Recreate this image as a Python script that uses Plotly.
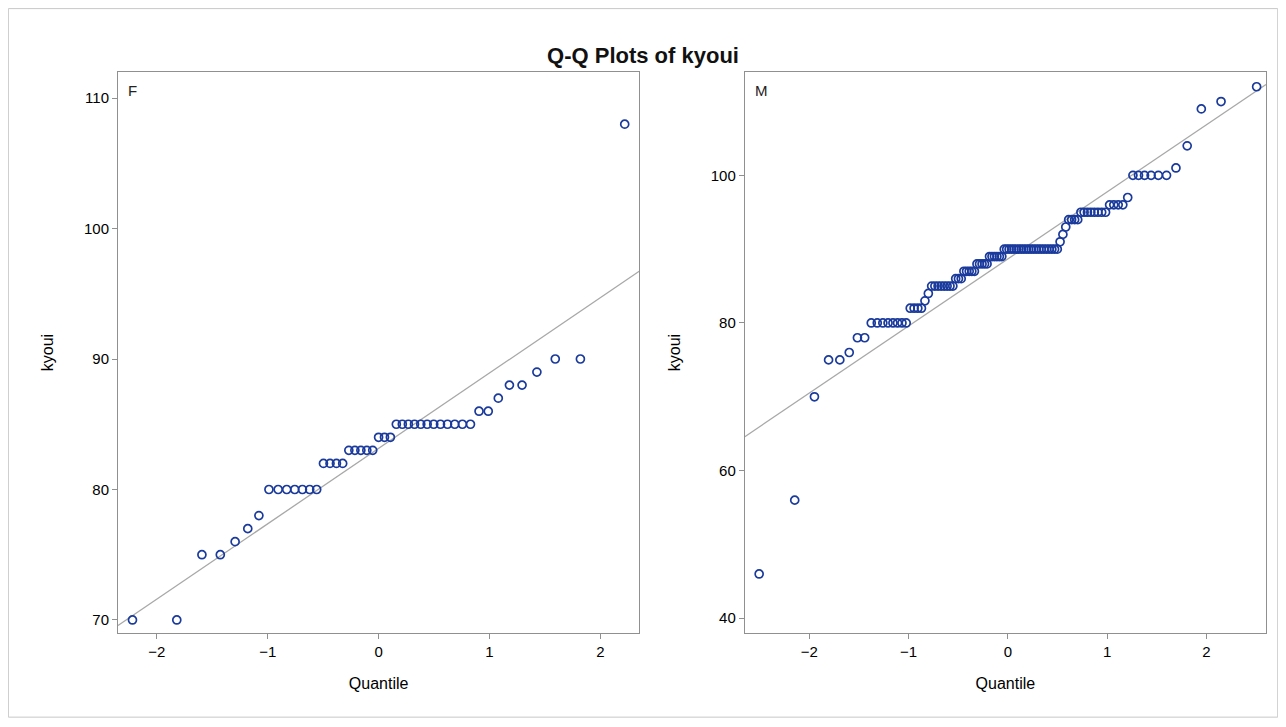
import numpy as np
import plotly.graph_objects as go
from plotly.subplots import make_subplots
from statistics import NormalDist

# sorted kyoui values
f_vals = [70, 70, 75, 75, 76, 77, 78] + [80] * 7 + [82] * 4 + [83] * 5 + [84] * 3 + [85] * 12 \
    + [86, 86, 87, 88, 88, 89, 90, 90, 108]
m_vals = [46, 56, 70, 75, 75, 76, 78, 78] + [80] * 8 + [82] * 4 + [83, 84] + [85] * 8 + [86] * 3 \
    + [87] * 5 + [88] * 5 + [89] * 6 + [90] * 22 + [91, 92, 93] + [94] * 4 + [95] * 8 + [96] * 4 \
    + [97] + [100] * 6 + [101, 104, 109, 110, 112]


def quantiles(v):
    n = len(v)
    nd = NormalDist()
    return [nd.inv_cdf((i + 1 - 0.375) / (n + 0.25)) for i in range(n)]


fig = make_subplots(rows=1, cols=2, horizontal_spacing=0.092)

panels = [("F", f_vals, [-2.35, 2.35], [69, 112], [70, 80, 90, 100, 110]),
          ("M", m_vals, [-2.65, 2.6], [38, 114], [40, 60, 80, 100])]

for i, (lab, vals, xr, yr, yt) in enumerate(panels, start=1):
    q = quantiles(vals)
    mu, sd = np.mean(vals), np.std(vals, ddof=1)
    fig.add_trace(go.Scatter(x=xr, y=[mu + sd * xr[0], mu + sd * xr[1]], mode="lines",
                             line=dict(color="#a8a8a8", width=1.3), hoverinfo="skip"), row=1, col=i)
    fig.add_trace(go.Scatter(x=q, y=vals, mode="markers",
                             marker=dict(symbol="circle-open", size=8, color="#1a3a9c",
                                         line=dict(width=1.7))), row=1, col=i)
    ax = dict(showline=True, linecolor="#909090", mirror=True, showgrid=False, zeroline=False,
              ticks="outside", ticklen=5, tickcolor="#909090",
              tickfont=dict(size=15, color="#000"))
    fig.update_xaxes(range=xr, tickvals=[-2, -1, 0, 1, 2], title=dict(text="Quantile", standoff=18,
                     font=dict(size=16, color="#000")), **ax, row=1, col=i)
    fig.update_yaxes(range=yr, tickvals=yt, title=dict(text="kyoui", standoff=26,
                     font=dict(size=16, color="#000")), **ax, row=1, col=i)
    fig.add_annotation(x=0.015, y=0.985, xref=f"x{'' if i == 1 else i} domain",
                       yref=f"y{'' if i == 1 else i} domain", text=lab, showarrow=False,
                       xanchor="left", yanchor="top", font=dict(size=15, color="#222"))

fig.update_layout(
    width=1270, height=711,
    margin=dict(l=110, r=12, t=64, b=86),
    paper_bgcolor="white", plot_bgcolor="white",
    showlegend=False,
    font=dict(family="Liberation Sans", color="#222"),
    title=dict(text="<b>Q-Q Plots of kyoui</b>", x=0.5, xanchor="center", y=0.945,
               font=dict(size=22, color="#111")),
)
fig.add_shape(type="rect", xref="paper", yref="paper", x0=-0.0955, x1=1.0102, y0=-0.15, y1=1.113,
              line=dict(color="#c8c8c8", width=1))

fig.write_html("out.html")
